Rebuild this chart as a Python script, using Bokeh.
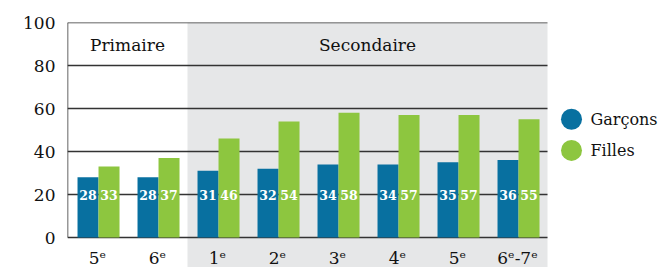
from bokeh.plotting import figure
from bokeh.models import Range1d, Label, FixedTicker
from bokeh.core.properties import value
from bokeh.embed import file_html
from bokeh.resources import INLINE

categories = ["5ᵉ", "6ᵉ", "1ᵉ", "2ᵉ", "3ᵉ", "4ᵉ", "5ᵉ", "6ᵉ-7ᵉ"]
garcons = [28, 28, 31, 32, 34, 34, 35, 36]
filles = [33, 37, 46, 54, 58, 57, 57, 55]
series_names = ["Garçons", "Filles"]
groups = ["Primaire", "Secondaire"]
group_start = [0, 2]
group_end = [2, 8]
y_ticks = [0, 20, 40, 60, 80, 100]

BLUE = "#0870A0"
GREEN = "#8DC63F"
GRAY = "#E6E7E8"
LINE = "#333333"
TXT = "#111111"
FONT = "DejaVu Serif"

n = len(categories)
bw = 0.35
idx = list(range(n))
xb = [i + 0.5 - bw / 2 + 0.017 for i in idx]
xg = [i + 0.5 + bw / 2 + 0.017 for i in idx]

W, H = 659, 267
left, top = 67, 22
frame_w = W - left
px_per_cat = 60
x_end = frame_w / px_per_cat
px_per_unit = 2.15
y_lo = 100 - (H - top) / px_per_unit

p = figure(width=W, height=H, output_backend="svg", toolbar_location=None,
           x_range=Range1d(0, x_end), y_range=Range1d(y_lo, 100),
           min_border_left=left, min_border_top=top, min_border_bottom=0, min_border_right=0)
p.xaxis.visible = False
p.xgrid.visible = False
p.ygrid.visible = False
p.outline_line_color = None

# shaded secondary region
p.quad(left=[group_start[1]], right=[group_end[1]], bottom=[y_lo], top=[100],
       fill_color=GRAY, line_color=None)

# grid lines
p.segment(x0=[0] * len(y_ticks), x1=[n] * len(y_ticks), y0=y_ticks, y1=y_ticks,
          line_color=LINE, line_width=1.5)
p.segment(x0=[0], x1=[0], y0=[0], y1=[100], line_color=LINE, line_width=1.5)

p.vbar(x=xb, top=garcons, width=bw, fill_color=BLUE, line_color=None)
p.vbar(x=xg, top=filles, width=bw, fill_color=GREEN, line_color=None)

# value labels
lbl_y = 20
for xs, vals in ((xb, garcons), (xg, filles)):
    p.text(x=xs, y=[lbl_y] * n, text=[str(v) for v in vals], text_color="white",
           text_font=value(FONT), text_font_style="bold", text_font_size="12.5px",
           text_align="center", text_baseline="middle")

# category labels
p.text(x=[i + 0.5 for i in idx], y=[-9.5] * n, text=categories, text_color=TXT,
       text_font=value(FONT), text_font_size="17px", text_align="center",
       text_baseline="middle")

# group labels
p.text(x=[(a + b) / 2 for a, b in zip(group_start, group_end)], y=[89.5] * len(groups),
       text=groups, text_color=TXT, text_font=value(FONT), text_font_size="17px",
       text_align="center", text_baseline="middle")

# y axis
ax = p.yaxis[0]
ax.ticker = FixedTicker(ticks=y_ticks)
ax.axis_line_color = None
ax.major_tick_line_color = None
ax.minor_tick_line_color = None
ax.major_label_standoff = 6
ax.major_label_text_font = FONT
ax.major_label_text_font_size = "17px"
ax.major_label_text_color = TXT

p.add_layout(Label(x=-0.8, y=50, text="%", text_font=FONT, text_font_size="16px",
                   text_align="center", text_baseline="middle", text_color=TXT))

# legend (drawn manually to the right of the bars)
leg_x = n + 24 / px_per_cat
leg_y = [55, 40.5]
p.scatter(x=[leg_x] * 2, y=leg_y, marker="circle", size=21,
          fill_color=[BLUE, GREEN], line_color=None)
p.text(x=[leg_x + 19 / px_per_cat] * 2, y=leg_y, text=series_names, text_color=TXT,
       text_font=value(FONT), text_font_size="16px", text_align="left",
       text_baseline="middle")

open("out.html", "w").write(file_html(p, INLINE))
